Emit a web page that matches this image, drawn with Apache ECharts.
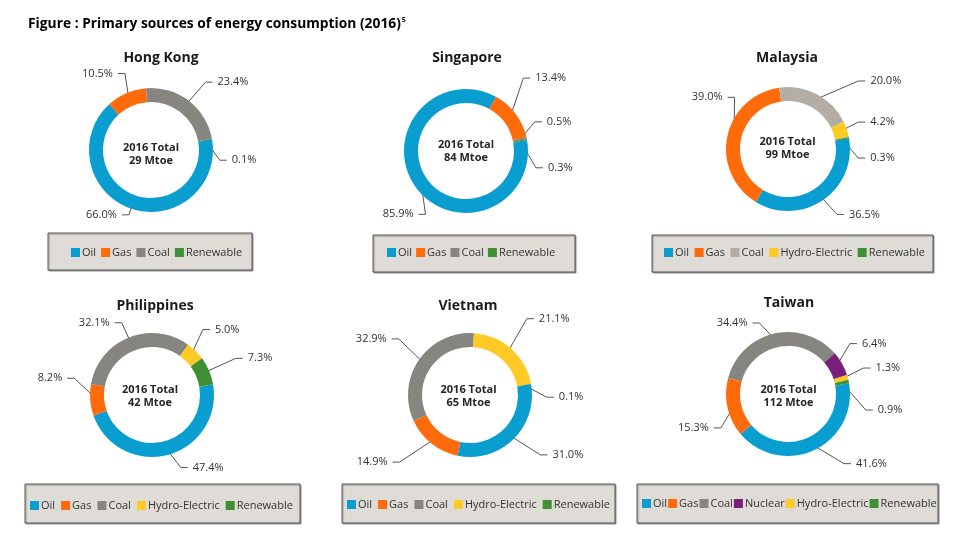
<!DOCTYPE html>
<html><head><meta charset="utf-8">
<script src="https://cdn.jsdelivr.net/npm/echarts@6/dist/echarts.min.js"></script>
<style>html,body{margin:0;padding:0;background:#fff}#c{width:960px;height:549px}</style>
</head><body><div id="c"></div>
<script>
// ---- data ----
const countries = ['Hong Kong', 'Singapore', 'Malaysia', 'Philippines', 'Vietnam', 'Taiwan'];
const totalsMtoe = [29, 84, 99, 42, 65, 112];
const hkNames = ['Oil', 'Gas', 'Coal', 'Renewable'];
const hkValues = [66.0, 10.5, 23.4, 0.1];
const sgNames = ['Oil', 'Gas', 'Coal', 'Renewable'];
const sgValues = [85.9, 13.4, 0.5, 0.3];
const myNames = ['Oil', 'Gas', 'Coal', 'Hydro-Electric', 'Renewable'];
const myValues = [36.5, 39.0, 20.0, 4.2, 0.3];
const phNames = ['Oil', 'Gas', 'Coal', 'Hydro-Electric', 'Renewable'];
const phValues = [47.4, 8.2, 32.1, 5.0, 7.3];
const vnNames = ['Oil', 'Gas', 'Coal', 'Hydro-Electric', 'Renewable'];
const vnValues = [31.0, 14.9, 32.9, 21.1, 0.1];
const twNames = ['Oil', 'Gas', 'Coal', 'Nuclear', 'Hydro-Electric', 'Renewable'];
const twValues = [41.6, 15.3, 34.4, 6.4, 1.3, 0.9];
const figureTitle = 'Figure : Primary sources of energy consumption (2016)';
const figureNote = '5';

// ---- styles / layout ----
const FONT = '"Open Sans", "Noto Sans", sans-serif';
const palette = {
  'Oil': '#0a9dd0', 'Gas': '#ff6a0a', 'Coal': '#878580', 'Nuclear': '#7a1f7b',
  'Hydro-Electric': '#ffc926', 'Renewable': '#3f8f34'
};
const coalOverride = { 'Malaysia': '#b3ada6' };
// panel geometry (pie centre, title, centre text, legend box & legend start)
const panels = [
  { names: hkNames, values: hkValues, cx: 151, cy: 150, tx: 161, ty: 58, mx: 151, my: 154.5, box: [48, 233, 204, 37], lx: 71, ly: 254, gap: 5 },
  { names: sgNames, values: sgValues, cx: 466, cy: 151, tx: 467, ty: 58, mx: 466, my: 151, box: [373, 235, 202, 37], lx: 387, ly: 254, gap: 4 },
  { names: myNames, values: myValues, cx: 788, cy: 149, tx: 787, ty: 58, mx: 787.5, my: 148.5, box: [652, 235, 281, 37], lx: 664, ly: 254, gap: 5.5 },
  { names: phNames, values: phValues, cx: 152, cy: 395, tx: 155, ty: 306, mx: 150, my: 396, box: [25, 484, 275, 39], lx: 30, ly: 507, gap: 6 },
  { names: vnNames, values: vnValues, cx: 470, cy: 395, tx: 468, ty: 306, mx: 468.5, my: 396.5, box: [342, 484, 273, 39], lx: 347, ly: 506, gap: 6 },
  { names: twNames, values: twValues, cx: 788, cy: 394, tx: 789, ty: 303, mx: 788.5, my: 396.5, box: [637, 484, 301, 39], lx: 642, ly: 505, gap: 1 }
];
// label placement nudges [dx, dy] per slice (leader-line style like the source)
const labelNudges = [
  [[6, -9], [8, -5], [4, -6], [-11, 24]],
  [[26, 18], [-8, -26], [-6, -13], [-6, 20]],
  [[2, 1], [26, -36], [31, 1], [-2, -2], [-5, 21]],
  [[6, -3], [3, -23], [2, 0], [-7, -10], [9, -6]],
  [[13, 4], [-19, 6], [-4, -12], [2, -18], [-3, 16]],
  [[20, -1], [12, 17], [-8, 5], [-9, -12], [1, -5], [2, 24]]
];

const chart = echarts.init(document.getElementById('c'), null, { renderer: 'canvas' });

const series = [], legends = [], graphics = [];
graphics.push({
  type: 'text', left: 28, top: 16, z: 10,
  style: {
    text: '{t|' + figureTitle + '}{s|' + figureNote + '}',
    rich: {
      t: { fontFamily: FONT, fontWeight: 'bold', fontSize: 13.8, color: '#1a1a1a', lineHeight: 18 },
      s: { fontFamily: FONT, fontWeight: 'bold', fontSize: 7, color: '#1a1a1a', padding: [0, 0, 9, 1] }
    }
  }
});

panels.forEach((p, i) => {
  const country = countries[i];
  const colorOf = n => (n === 'Coal' && coalOverride[country]) ? coalOverride[country] : palette[n];
  const nud = labelNudges[i];
  series.push({
    type: 'pie',
    name: country,
    center: [p.cx, p.cy],
    radius: [48, 62],
    startAngle: 10,
    clockwise: true,
    avoidLabelOverlap: true,
    silent: true,
    data: p.names.map((n, k) => ({ name: n, value: p.values[k], itemStyle: { color: colorOf(n) } })),
    label: {
      show: true, position: 'outside',
      formatter: d => d.value.toFixed(1) + '%',
      fontFamily: FONT, fontSize: 11, color: '#333'
    },
    labelLine: { show: true, length: 16, length2: 10, lineStyle: { color: '#555', width: 1 } },
    labelLayout: function (params) {
      const n = nud[params.dataIndex] || [0, 0];
      const lr = params.labelRect;
      const ax = params.align === 'right' ? lr.x + lr.width : (params.align === 'center' ? lr.x + lr.width / 2 : lr.x);
      const ay = lr.y + lr.height / 2;
      const out = { x: ax + n[0], y: ay + n[1] };
      const pts = params.labelLinePoints;
      if (pts && pts.length >= 3) {
        const f = 0.89;
        const p0 = [p.cx + (pts[0][0] - p.cx) * f, p.cy + (pts[0][1] - p.cy) * f];
        const p2 = [pts[2][0] + n[0], pts[2][1] + n[1]];
        const p1 = [p2[0] + (params.align === 'right' ? 7 : -7), p2[1]];
        out.labelLinePoints = [p0, p1, p2];
      }
      return out;
    },
    emphasis: { disabled: true }
  });
  graphics.push({
    type: 'text', z: 10,
    x: p.tx, y: p.ty,
    style: { text: country, font: 'bold 14px ' + FONT, fill: '#1a1a1a', textAlign: 'center', textVerticalAlign: 'middle' }
  });
  graphics.push({
    type: 'text', z: 10,
    x: p.mx, y: p.my,
    style: {
      text: '2016 Total\n' + totalsMtoe[i] + ' Mtoe', font: 'bold 11px ' + FONT, fill: '#262626',
      textAlign: 'center', textVerticalAlign: 'middle', lineHeight: 13
    }
  });
  graphics.push({
    type: 'rect', z: -1,
    shape: { x: p.box[0], y: p.box[1], width: p.box[2], height: p.box[3] },
    style: { fill: '#dfdcd7', stroke: '#595959', lineWidth: 1, shadowColor: 'rgba(0,0,0,0.35)', shadowOffsetX: 1, shadowOffsetY: 1, shadowBlur: 1 }
  });
  legends.push({
    seriesIndex: i,
    left: p.lx, top: p.ly - 7,
    orient: 'horizontal',
    itemWidth: 9, itemHeight: 9, itemGap: p.gap,
    icon: 'rect', padding: 0, selectedMode: false,
    data: p.names.map(n => ({ name: n, itemStyle: { color: colorOf(n) } })),
    textStyle: { fontFamily: FONT, fontSize: 11, color: '#333', padding: [0, 0, 0, -3] }
  });
});

chart.setOption({
  animation: false,
  backgroundColor: '#ffffff',
  legend: legends,
  graphic: graphics,
  series: series
});
</script></body></html>
